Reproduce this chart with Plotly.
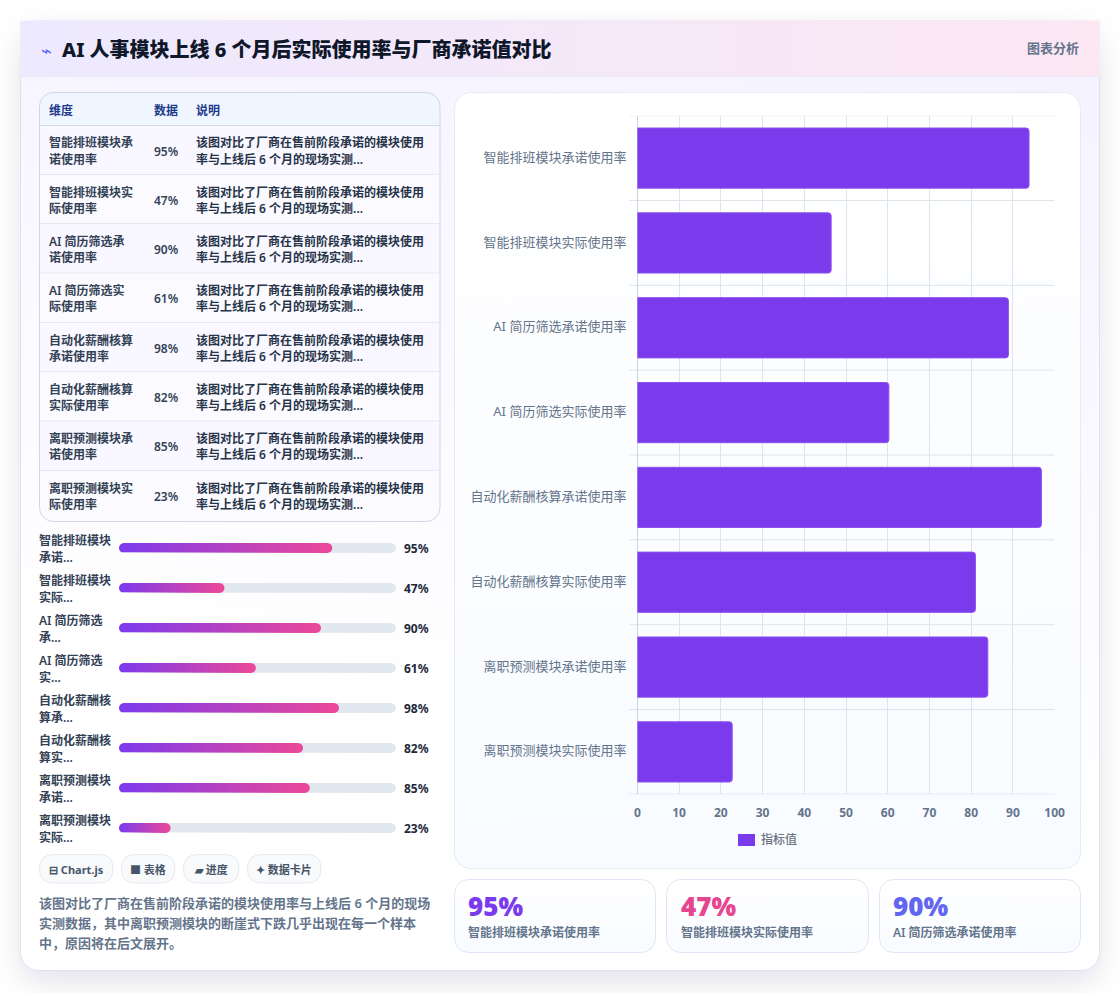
import base64
import numpy as np
import plotly.graph_objects as go

W, H = 1120, 993

# ---- data ----
categories = ["智能排班模块承诺使用率", "智能排班模块实际使用率", "AI 简历筛选承诺使用率", "AI 简历筛选实际使用率",
              "自动化薪酬核算承诺使用率", "自动化薪酬核算实际使用率", "离职预测模块承诺使用率", "离职预测模块实际使用率"]
values = [95, 47, 90, 61, 98, 82, 85, 23]
table_headers = ["维度", "数据", "说明"]
table_dimensions = [["智能排班模块承", "诺使用率"], ["智能排班模块实", "际使用率"], ["AI 简历筛选承", "诺使用率"], ["AI 简历筛选实", "际使用率"],
                    ["自动化薪酬核算", "承诺使用率"], ["自动化薪酬核算", "实际使用率"], ["离职预测模块承", "诺使用率"], ["离职预测模块实", "际使用率"]]
table_note = ["该图对比了厂商在售前阶段承诺的模块使用", "率与上线后 6 个月的现场实测..."]
progress_labels = [["智能排班模块", "承诺..."], ["智能排班模块", "实际..."], ["AI 简历筛选", "承..."], ["AI 简历筛选", "实..."],
                   ["自动化薪酬核", "算承..."], ["自动化薪酬核", "算实..."], ["离职预测模块", "承诺..."], ["离职预测模块", "实际..."]]
chips = ["⊟ Chart.js", "■ 表格", "▰ 进度", "✦ 数据卡片"]
paragraph = ["该图对比了厂商在售前阶段承诺的模块使用率与上线后 6 个月的现场",
             "实测数据，其中离职预测模块的断崖式下跌几乎出现在每一个样本",
             "中，原因将在后文展开。"]
title = "AI 人事模块上线 6 个月后实际使用率与厂商承诺值对比"
x_ticks = list(range(0, 101, 10))
stat_colors = ["#7c3aed", "#e5468f", "#6366f1"]

FONT = '"Noto Sans", "Noto Sans CJK SC", sans-serif'


def px(x):
    return x / W


def py(y):
    return 1 - y / H


# ---- page backdrop: shadow and soft gradients ----
row_edges = [125.5, 174.5, 223.5, 273, 322.5, 371.5, 421, 470.5, 521.5]
rows_svg = "".join(
    f'<rect x="40" y="{row_edges[i]}" width="400" height="{row_edges[i + 1] - row_edges[i]}" '
    f'fill="{"#f9f7ff" if i % 2 == 0 else "#fbfbff"}"/>' for i in range(8))
stat_svg = "".join(
    f'<rect x="{x}" y="879.5" width="{w}" height="73" rx="14" fill="url(#panel)" stroke="#dfe7f6"/>'
    for x, w in [(454.5, 201), (666.5, 202), (879.5, 201)])
backdrop = f'''<svg xmlns="http://www.w3.org/2000/svg" width="{W}" height="{H}" viewBox="0 0 {W} {H}">
<defs>
<linearGradient id="card" x1="0.6" y1="0" x2="0.4" y2="1"><stop offset="0" stop-color="#f5f3ff"/><stop offset="0.75" stop-color="#ffffff"/></linearGradient>
<linearGradient id="head" x1="0" y1="0" x2="1" y2="0"><stop offset="0" stop-color="#ede9fe"/><stop offset="1" stop-color="#fce7f3"/></linearGradient>
<linearGradient id="panel" x1="0" y1="0" x2="0" y2="1"><stop offset="0" stop-color="#ffffff"/><stop offset="1" stop-color="#f8fbff"/></linearGradient>
<filter id="soft" x="-20%" y="-20%" width="140%" height="140%"><feGaussianBlur stdDeviation="16"/></filter>
<clipPath id="tableclip"><rect x="39.5" y="92.5" width="400.5" height="429" rx="14"/></clipPath>
</defs>
<rect width="{W}" height="{H}" fill="#ffffff"/>
<rect x="22" y="34" width="1076" height="947" rx="18" fill="#0f172a" fill-opacity="0.12" filter="url(#soft)"/>
<rect x="20.5" y="21" width="1079" height="949.5" rx="18" fill="url(#card)" stroke="#e2def5"/>
<rect x="20" y="20.5" width="1080" height="55.5" rx="2" fill="url(#head)"/>
<rect x="20" y="76" width="1080" height="1" fill="#ebe9f8"/>
<g clip-path="url(#tableclip)"><rect x="40" y="93" width="400" height="33" fill="#eff6ff"/>{rows_svg}</g>
<rect x="39.5" y="92.5" width="400.5" height="429" rx="14" fill="none" stroke="#cfd7e6"/>
<rect x="454.5" y="92.5" width="626" height="776" rx="16" fill="url(#panel)" stroke="#e6eaf6"/>
{stat_svg}
</svg>'''
backdrop_uri = "data:image/svg+xml;base64," + base64.b64encode(backdrop.encode()).decode()

fig = go.Figure()
annotations, shapes = [], []


def text(x, y, s, size=12, color="#334155", weight=600, anchor="left"):
    annotations.append(dict(x=px(x), y=py(y), xref="paper", yref="paper", text=s, showarrow=False,
                            xanchor=anchor, yanchor="middle", borderpad=0, borderwidth=0,
                            font=dict(family=FONT, size=size, color=color, weight=weight)))


def rounded(x0, y0, x1, y1, r, fill, line="rgba(0,0,0,0)"):
    p = (f"M{px(x0 + r)},{py(y0)} L{px(x1 - r)},{py(y0)} Q{px(x1)},{py(y0)} {px(x1)},{py(y0 + r)} "
         f"L{px(x1)},{py(y1 - r)} Q{px(x1)},{py(y1)} {px(x1 - r)},{py(y1)} L{px(x0 + r)},{py(y1)} "
         f"Q{px(x0)},{py(y1)} {px(x0)},{py(y1 - r)} L{px(x0)},{py(y0 + r)} Q{px(x0)},{py(y0)} {px(x0 + r)},{py(y0)} Z")
    shapes.append(dict(type="path", path=p, xref="paper", yref="paper", fillcolor=fill,
                       line=dict(color=line, width=1), layer="below"))


# ---- header ----
text(41, 50, "⌁", 18, "#6366f1", 400)
text(62, 50, title, 20, "#0f172a", 800)
text(1079, 48, "图表分析", 13, "#64748b", 600, "right")

# ---- table ----
for x, h in zip([49, 154, 196], table_headers):
    text(x, 110, h, 12, "#1e3a8a", 600)
for i in range(8):
    top = row_edges[i]
    mid = 151 + i * 49.3
    text(49, mid - 8, table_dimensions[i][0], 12, "#334155", 600)
    text(49, mid + 8, table_dimensions[i][1], 12, "#334155", 600)
    text(154, mid, f"{values[i]}%", 12, "#334155", 600)
    text(196, mid - 8, table_note[0], 12, "#263348", 600)
    text(196, mid + 8, table_note[1], 12, "#263348", 600)
    shapes.append(dict(type="line", xref="paper", yref="paper", x0=px(40), x1=px(440),
                       y0=py(top), y1=py(top), line=dict(color="#d4dbe9" if i == 0 else "#e6e9f3", width=1),
                       layer="below"))

# ---- progress rows: gradient pills on their own hidden axes ----
PX_PER_UNIT = 2.245
TRACK_MAX = 277 / PX_PER_UNIT
ROW_PX = 40


def pill(end, row):
    """Closed outline of a 10px-tall pill spanning 0..end on the given row."""
    rx, ry = 5 / PX_PER_UNIT, 5 / ROW_PX
    t = np.linspace(-np.pi / 2, np.pi / 2, 13)
    xs = np.concatenate([end - rx + rx * np.cos(t), rx - rx * np.cos(t)])
    ys = np.concatenate([row + ry * np.sin(t), row - ry * np.sin(t)])
    return list(xs) + [xs[0]], list(ys) + [ys[0]]


for i, v in enumerate(values):
    xs, ys = pill(TRACK_MAX, i)
    fig.add_trace(go.Scatter(x=xs, y=ys, xaxis="x3", yaxis="y3", mode="lines", fill="toself",
                             fillcolor="#e2e8f0", line=dict(width=0), hoverinfo="skip", showlegend=False))
    xs, ys = pill(v, i)
    fig.add_trace(go.Scatter(x=xs, y=ys, xaxis="x3", yaxis="y3", mode="lines", fill="toself",
                             fillgradient=dict(type="horizontal", colorscale=[[0, "#7c3aed"], [1, "#ec4899"]]),
                             line=dict(width=0), hoverinfo="skip", showlegend=False))
    cy = 548 + i * ROW_PX
    text(39, cy - 7.5, progress_labels[i][0], 12, "#334155", 600)
    text(39, cy + 9.5, progress_labels[i][1], 12, "#334155", 600)
    text(404, cy, f"{v}%", 12, "#1e293b", 700)

# ---- chips ----
for (x0, x1), c in zip([(39.5, 113), (121.5, 175), (183.5, 239), (247.5, 321)], chips):
    rounded(x0, 854.5, x1, 883, 14, "#f8fafc", "#e5e9f1")
    text((x0 + x1) / 2, 869, c, 11, "#475569", 700, "center")

# ---- paragraph ----
for k, line in enumerate(paragraph):
    text(39, 903 + k * 20, line, 13, "#64748b", 600)

# ---- stat cards ----
for k, x in enumerate([468, 680.5, 893]):
    text(x, 906, f"{values[k]}%", 26, stat_colors[k], 900)
    text(x, 932, categories[k], 12, "#64748b", 600)

# ---- horizontal bars ----
fig.add_trace(go.Bar(x=values, y=categories, orientation="h", xaxis="x2", yaxis="y", width=0.71,
                     marker=dict(color="#7c3aed", cornerradius=3, line=dict(color="#8a55ef", width=1)),
                     hovertemplate="%{y}: %{x}<extra></extra>", showlegend=False))
fig.add_trace(go.Scatter(x=[0], y=[categories[0]], xaxis="x", yaxis="y", mode="markers",
                         marker=dict(opacity=0), hoverinfo="skip", showlegend=False))

X0, X100, Y0, Y1 = 637.4, 1054.6, 115.7, 794.3
for i in range(9):
    edge = i - 0.5
    last = i == 8
    shapes.append(dict(type="line", xref="paper", yref="y", x0=px(629), x1=px(X100), y0=edge, y1=edge,
                       line=dict(color="#ccd2e2" if last else "#dfe3ec", width=1), layer="below"))

# ---- legend key ----
rounded(738, 834, 755, 846, 0, "#7c3aed")
text(761, 839, "指标值", 12, "#6b7280", 500)

fig.update_layout(
    width=W, height=H, autosize=False, margin=dict(l=0, r=0, t=0, b=0, pad=0, autoexpand=False),
    paper_bgcolor="#ffffff", plot_bgcolor="rgba(0,0,0,0)", showlegend=False, bargap=0.28,
    font=dict(family=FONT),
    images=[dict(source=backdrop_uri, xref="paper", yref="paper", x=0, y=1, sizex=1, sizey=1,
                 xanchor="left", yanchor="top", sizing="stretch", layer="below")],
    shapes=shapes, annotations=annotations,
    xaxis=dict(domain=[px(X0), px(X100)], range=[0, 100], tickvals=x_ticks, anchor="y", showgrid=True,
               gridcolor="#dfe3ec", gridwidth=1, zeroline=True, zerolinecolor="#ccd2e2", zerolinewidth=1,
               showline=False, ticks="", tickfont=dict(family=FONT, size=12, color="#64748b", weight=700),
               ticklabelstandoff=10, automargin=False),
    # the bars run on a slightly wider scale than the printed 0-100 ruler
    xaxis2=dict(domain=[px(X0), px(X100)], range=[0, 101.2], overlaying="x", anchor="y", visible=False),
    yaxis=dict(domain=[py(Y1), py(Y0)], type="category", categoryorder="array", categoryarray=categories,
               range=[7.5, -0.5], anchor="x", showgrid=False, zeroline=False, showline=False, ticks="",
               tickfont=dict(family=FONT, size=13, color="#64748b", weight=400), ticklabelstandoff=10,
               ticklabelshift=1, automargin=False),
    xaxis3=dict(domain=[px(119), px(396)], range=[0, TRACK_MAX], anchor="y3", visible=False),
    yaxis3=dict(domain=[py(848), py(528)], range=[7.5, -0.5], anchor="x3", visible=False),
)

fig.write_html("out.html", config={"displayModeBar": False})
